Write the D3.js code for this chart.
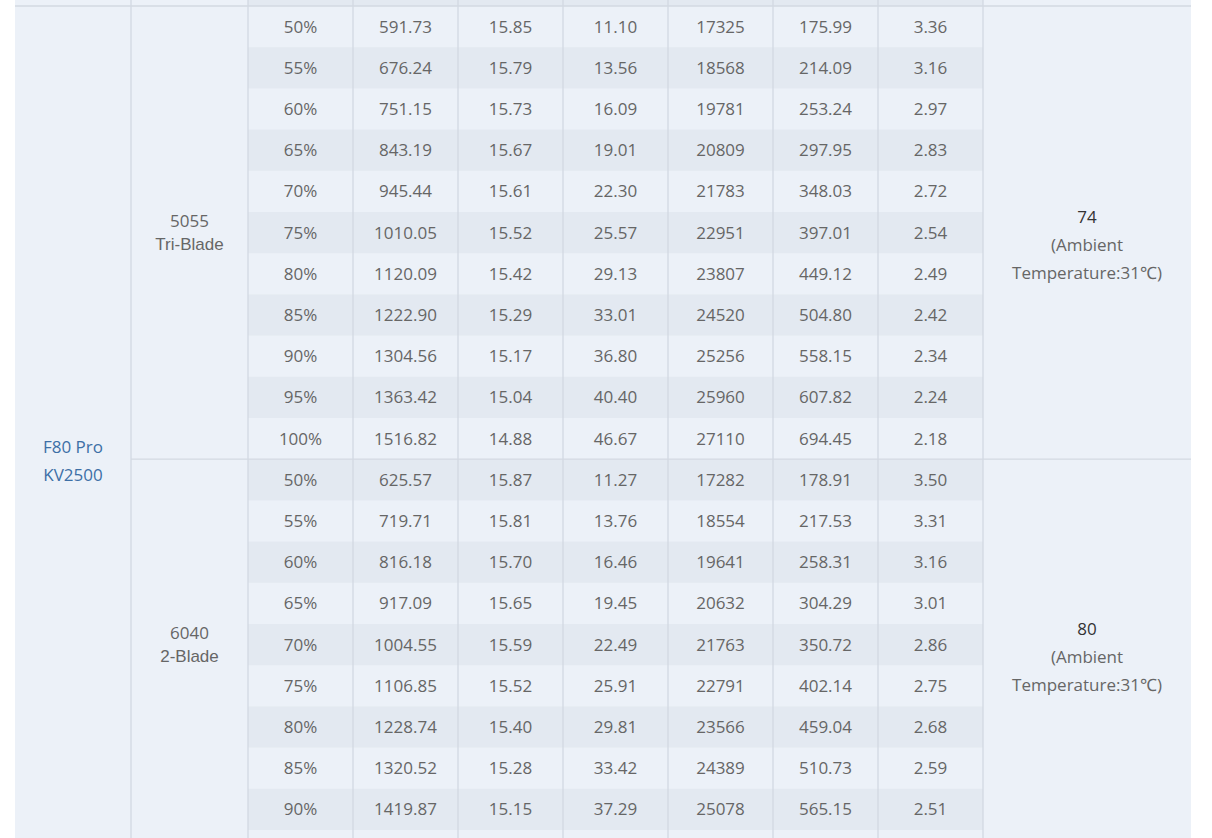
<!DOCTYPE html>
<html><head><meta charset="utf-8">
<script src="https://cdn.jsdelivr.net/npm/d3@7"></script>
<style>body{margin:0;background:#fff;overflow:hidden}</style>
</head><body><svg id="t" width="1212" height="838"></svg>
<script>
const throttle = ['50%','55%','60%','65%','70%','75%','80%','85%','90%','95%','100%'];
const g1 = [
 ['591.73','15.85','11.10','17325','175.99','3.36'],
 ['676.24','15.79','13.56','18568','214.09','3.16'],
 ['751.15','15.73','16.09','19781','253.24','2.97'],
 ['843.19','15.67','19.01','20809','297.95','2.83'],
 ['945.44','15.61','22.30','21783','348.03','2.72'],
 ['1010.05','15.52','25.57','22951','397.01','2.54'],
 ['1120.09','15.42','29.13','23807','449.12','2.49'],
 ['1222.90','15.29','33.01','24520','504.80','2.42'],
 ['1304.56','15.17','36.80','25256','558.15','2.34'],
 ['1363.42','15.04','40.40','25960','607.82','2.24'],
 ['1516.82','14.88','46.67','27110','694.45','2.18']];
const g2 = [
 ['625.57','15.87','11.27','17282','178.91','3.50'],
 ['719.71','15.81','13.76','18554','217.53','3.31'],
 ['816.18','15.70','16.46','19641','258.31','3.16'],
 ['917.09','15.65','19.45','20632','304.29','3.01'],
 ['1004.55','15.59','22.49','21763','350.72','2.86'],
 ['1106.85','15.52','25.91','22791','402.14','2.75'],
 ['1228.74','15.40','29.81','23566','459.04','2.68'],
 ['1320.52','15.28','33.42','24389','510.73','2.59'],
 ['1419.87','15.15','37.29','25078','565.15','2.51'],
 ['','','','','','']];
const props = [['5055','Tri-Blade'],['6040','2-Blade']];
const temps = ['74','80'];
const motor = ['F80 Pro','KV2500'];

const svg = d3.select('#t');
const colX = [15,131,248,353,458,563,668,773,878,983,1191];
const rowH = 41.2, topY = 6;
const rows = [];
g1.forEach((d,i)=>rows.push({g:0,th:throttle[i],v:d}));
g2.forEach((d,i)=>rows.push({g:1,th:throttle[i]||'',v:d}));
const y = d3.scaleLinear().domain([0,1]).range([topY, topY+rowH]);
const font = "'Open Sans', sans-serif";

svg.append('rect').attr('x',15).attr('y',0).attr('width',1176).attr('height',838).attr('fill','#ecf1f8');
// header remnant
svg.append('rect').attr('x',248).attr('y',0).attr('width',735).attr('height',topY).attr('fill','#e3e9f1');
rows.forEach((r,i)=>{
  if(i%2===1) svg.append('rect').attr('x',248).attr('y',y(i)).attr('width',735).attr('height',rowH).attr('fill','#e3e9f1');
  const vals=[r.th].concat(r.v);
  vals.forEach((t,j)=>{
    svg.append('text').attr('x',(colX[j+2]+colX[j+3])/2).attr('y',y(i)+rowH/2+6)
      .attr('text-anchor','middle').attr('font-family',font).attr('font-size',17).attr('fill','#666').text(t);
  });
});
const line = (x1,y1,x2,y2)=>svg.append('line').attr('x1',x1).attr('y1',y1).attr('x2',x2).attr('y2',y2).attr('stroke','#d3d9e2').attr('stroke-width',1.3);
colX.slice(1,10).forEach(x=>line(x,0,x,838));
line(15,topY,1191,topY);
line(131,y(11),1191,y(11));

[0,1].forEach(g=>{
  const c0 = g===0?y(0):y(11), c1 = g===0?y(11):y(20);
  const cy=(c0+c1)/2;
  svg.append('text').attr('x',189.5).attr('y',cy-6).attr('text-anchor','middle').attr('font-family',font).attr('font-size',17).attr('fill','#666').text(props[g][0]);
  svg.append('text').attr('x',189.5).attr('y',cy+17).attr('text-anchor','middle').attr('font-family','Liberation Sans, Arial').attr('font-size',17).attr('fill','#666').text(props[g][1]);
  svg.append('text').attr('x',1087).attr('y',cy-10).attr('text-anchor','middle').attr('font-family',font).attr('font-size',17).attr('fill','#333').text(temps[g]);
  svg.append('text').attr('x',1087).attr('y',cy+18).attr('text-anchor','middle').attr('font-family',font).attr('font-size',17).attr('fill','#666').text('(Ambient');
  svg.append('text').attr('x',1087).attr('y',cy+46).attr('text-anchor','middle').attr('font-family',font).attr('font-size',17).attr('fill','#666').text('Temperature:31℃)');
});
svg.append('text').attr('x',73).attr('y',453).attr('text-anchor','middle').attr('font-family',font).attr('font-size',17).attr('fill','#3d6fa6').text(motor[0]);
svg.append('text').attr('x',73).attr('y',481).attr('text-anchor','middle').attr('font-family',font).attr('font-size',17).attr('fill','#3d6fa6').text(motor[1]);
</script></body></html>
